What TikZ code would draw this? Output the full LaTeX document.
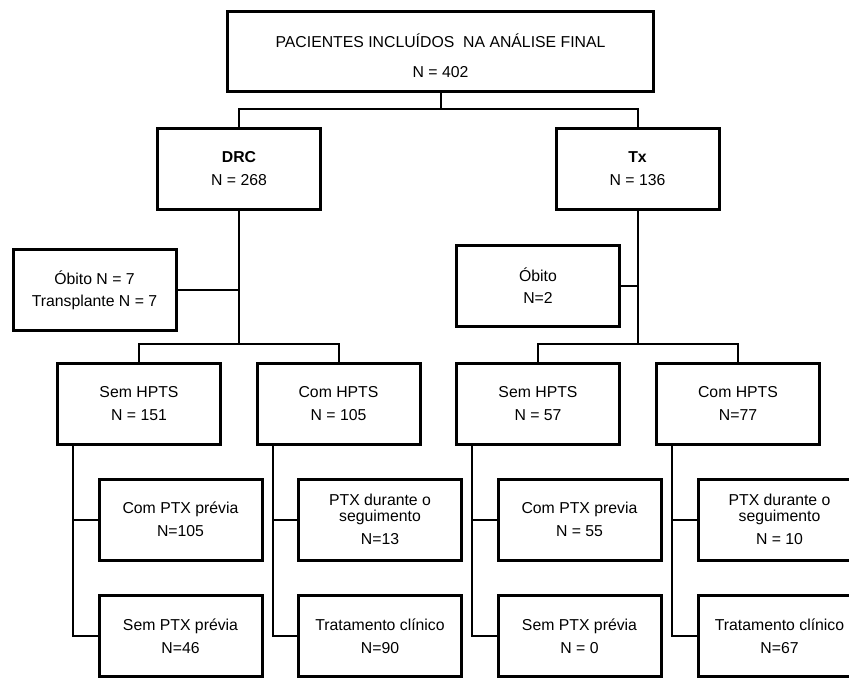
\documentclass[tikz,border=0pt]{standalone}
\usepackage{fontspec}
\setmainfont{Liberation Sans}
\newcommand{\fsz}{\fontsize{15.8}{16}\selectfont}
\begin{document}
\begin{tikzpicture}[x=1pt,y=-1pt,
  box/.style={draw, line width=3pt, minimum width=163pt, minimum height=81pt,
    inner sep=0pt, align=center, font=\fsz},
  link/.style={line width=2pt}]
\useasboundingbox (0,0) rectangle (849,678);
\clip (0,0) rectangle (849,678);

% level 1
\node[box, minimum width=426pt, minimum height=80pt] (top) at (440.5,51.5)
  {\rule{0pt}{23pt}PACIENTES INCLUÍDOS \ NA ANÁLISE FINAL\\[14pt] N = 402};
% level 2
\node[box] (drc) at (239,169) {\textbf{DRC}\\[7pt] N = 268};
\node[box] (tx) at (637.5,169) {\textbf{Tx}\\[7pt] N = 136};
% exits
\node[box] (ob1) at (94.5,290) {Óbito N = 7\\[6pt] Transplante N = 7};
\node[box] (ob2) at (538,285.5) {Óbito\\[6pt] N=2};
% level 3
\node[box] (s1) at (139,403.5) {Sem HPTS\\[7pt] N = 151};
\node[box] (c1) at (338.5,403.5) {Com HPTS\\[7pt] N = 105};
\node[box] (s2) at (538,403.5) {Sem HPTS\\[7pt] N = 57};
\node[box] (c2) at (738,403.5) {Com HPTS\\[7pt] N=77};
% level 4
\node[box] (s1a) at (180.5,519.5) {Com PTX prévia\\[7pt] N=105};
\node[box] (c1a) at (380,519.5) {PTX durante o\\ seguimento\\[7pt] N=13};
\node[box] (s2a) at (579.5,519.5) {Com PTX previa\\[7pt] N = 55};
\node[box] (c2a) at (779.5,519.5) {PTX durante o\\ seguimento\\[7pt] N = 10};
% level 5
\node[box] (s1b) at (180.5,636) {Sem PTX prévia\\[7pt] N=46};
\node[box] (c1b) at (380,636) {Tratamento clínico\\[7pt] N=90};
\node[box] (s2b) at (579.5,636) {Sem PTX prévia\\[7pt] N = 0};
\node[box] (c2b) at (779.5,636) {Tratamento clínico\\[7pt] N=67};

% connectors level 1 -> 2
\coordinate (j0) at (440.5,109);
\draw[link] (top.south) -- (j0);
\draw[link] (drc.north) |- (j0) -| (tx.north);
% DRC branch
\coordinate (j1) at (239,344);
\draw[link] (drc.south) -- (j1);
\draw[link] (s1.north) |- (j1) -| (c1.north);
\draw[link] (ob1.east) -- (ob1.east -| drc.south);
% Tx branch
\coordinate (j2) at (637.5,344);
\draw[link] (tx.south) -- (j2);
\draw[link] (s2.north) |- (j2) -| (c2.north);
\draw[link] (ob2.east) -- (ob2.east -| tx.south);
% level 3 -> 4,5
\foreach \p/\a/\b in {s1/s1a/s1b, c1/c1a/c1b, s2/s2a/s2b, c2/c2a/c2b}{
  \coordinate (\p-br) at ([xshift=17pt]\p.south west);
  \draw[link] (\p-br) |- (\a.west);
  \draw[link] (\p-br) |- (\b.west);
}
\end{tikzpicture}
\end{document}
